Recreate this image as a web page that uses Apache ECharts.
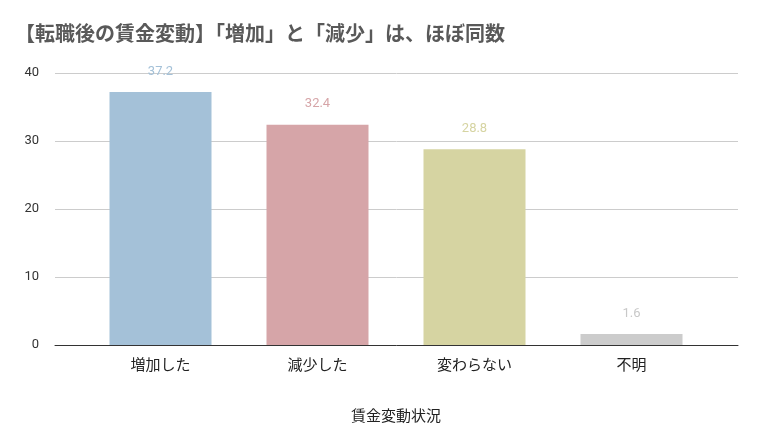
<!DOCTYPE html>
<html>
<head>
<meta charset="utf-8">
<script src="https://cdn.jsdelivr.net/npm/echarts@6/dist/echarts.min.js"></script>
<style>html,body{margin:0;padding:0;background:#fff}#chart{width:760px;height:446px}</style>
</head>
<body>
<div id="chart"></div>
<script>
var categories = ['増加した', '減少した', '変わらない', '不明'];
var values = [37.2, 32.4, 28.8, 1.6];
var barColors = ['#a4c1d8', '#d6a5a8', '#d6d4a2', '#cccccc'];
var labelColors = ['#a4c1d8', '#d6a5a8', '#d6d4a2', '#c8c8c8'];

var chart = echarts.init(document.getElementById('chart'));
chart.setOption({
	animation: false,
	title: {
		text: '【転職後の賃金変動】「増加」と「減少」は、ほぼ同数',
		left: 10, top: 18,
		textStyle: { fontFamily: 'Noto Sans CJK JP', fontSize: 20, fontWeight: 'bold', color: '#595959' }
	},
	grid: [
		{ left: 55, right: 22, top: 73, bottom: 101 },
		{ left: 82, right: 50, top: 73, bottom: 101 }
	],
	xAxis: [{
		gridIndex: 0, type: 'value', min: 0, max: 1,
		axisLine: { show: true, lineStyle: { color: '#333' } },
		axisTick: { show: false }, axisLabel: { show: false }, splitLine: { show: false }
	}, {
		gridIndex: 1,
		type: 'category',
		data: categories,
		name: '賃金変動状況',
		nameLocation: 'middle',
		nameGap: 63,
		nameTextStyle: { fontFamily: 'Noto Sans CJK JP', fontSize: 15, color: '#222' },
		axisLine: { show: false },
		axisTick: { show: false },
		axisLabel: { fontFamily: 'Noto Sans CJK JP', fontSize: 15, color: '#222', margin: 12 }
	}],
	yAxis: [{
		gridIndex: 0, type: 'value', min: 0, max: 40, interval: 10,
		axisLine: { show: false },
		axisTick: { show: false },
		splitLine: { lineStyle: { color: '#cccccc' } },
		axisLabel: { fontFamily: 'Roboto', fontSize: 13, color: '#333', margin: 16 }
	}, {
		gridIndex: 1, type: 'value', min: 0, max: 40, interval: 10, show: false
	}],
	series: [{
		type: 'bar',
		xAxisIndex: 1, yAxisIndex: 1,
		barWidth: 102,
		data: values.map(function (v, i) {
			return {
				value: v,
				itemStyle: { color: barColors[i] },
				label: { color: labelColors[i] }
			};
		}),
		label: {
			show: true, position: 'top', distance: 14,
			fontFamily: 'Roboto', fontSize: 13
		}
	}]
});
</script>
</body>
</html>
